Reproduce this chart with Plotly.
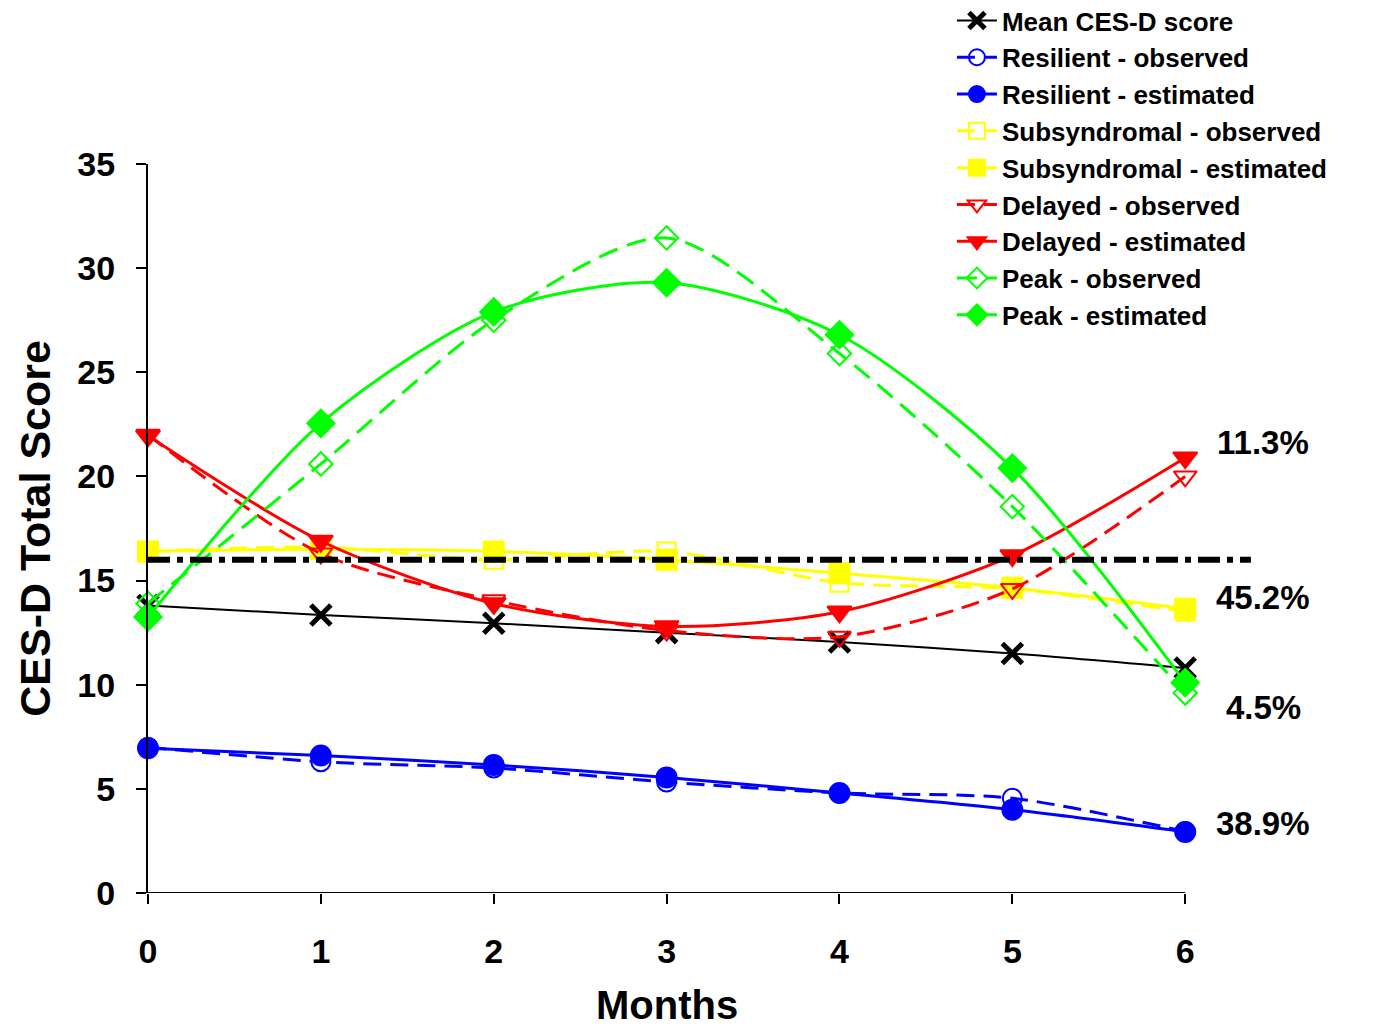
import plotly.graph_objects as go

months = [0, 1, 2, 3, 4, 5, 6]
y_ticks = [0, 5, 10, 15, 20, 25, 30, 35]

mean_score = [13.8, 13.35, 12.95, 12.5, 12.05, 11.5, 10.8]
resilient_obs = [7.0, 6.3, 6.0, 5.33, 4.8, 4.55, 2.95]
resilient_est = [6.95, 6.6, 6.15, 5.55, 4.8, 4.0, 2.93]
subsyn_obs = [16.4, 16.6, 16.0, 16.4, 14.9, 14.6, 13.5]
subsyn_est = [16.4, 16.5, 16.4, 16.0, 15.35, 14.65, 13.65]
delayed_obs = [22.0, 16.3, 14.05, 12.6, 12.3, 14.6, 20.0]
delayed_est = [21.95, 16.9, 13.9, 12.8, 13.5, 16.2, 20.9]
peak_obs = [13.9, 20.6, 27.5, 31.45, 25.9, 18.55, 9.6]
peak_est = [13.25, 22.55, 27.9, 29.3, 26.8, 20.4, 10.1]
threshold = 16
threshold_x = [0, 6.38]

pct_labels = ["11.3%", "45.2%", "4.5%", "38.9%"]

FONT = "Arial, Liberation Sans, sans-serif"

fig = go.Figure()

def add(name, y, color, symbol, size, dash, lw=3, mlw=2):
    fig.add_trace(go.Scatter(
        x=months, y=y, name=name, mode="lines+markers",
        line=dict(color=color, width=lw, dash=dash, shape="spline", smoothing=0.8),
        marker=dict(symbol=symbol, size=size, color=color,
                    line=dict(color=color, width=mlw)),
        cliponaxis=False,
    ))

add("Mean CES-D score", mean_score, "black", "x-thin", 20, "solid", lw=2, mlw=5)
add("Resilient - observed", resilient_obs, "#0000FF", "circle-open", 19, "18px,9px")
add("Resilient - estimated", resilient_est, "#0000FF", "circle", 20, "solid")
add("Subsyndromal - observed", subsyn_obs, "#FFFF00", "square-open", 18, "18px,9px")
add("Subsyndromal - estimated", subsyn_est, "#FFFF00", "square", 20, "solid")
add("Delayed - observed", delayed_obs, "#FF0000", "triangle-down-open", 20, "18px,9px")
add("Delayed - estimated", delayed_est, "#FF0000", "triangle-down", 21, "solid")
add("Peak - observed", peak_obs, "#00FF00", "diamond-open", 18, "20px,10px")
add("Peak - estimated", peak_est, "#00FF00", "diamond", 21, "solid")

fig.add_trace(go.Scatter(
    x=threshold_x, y=[threshold, threshold], mode="lines", showlegend=False,
    line=dict(color="black", width=6, dash="22px,7px,6px,7px"), hoverinfo="skip",
))

# x axis line from first to last month
fig.add_shape(type="line", xref="x", yref="y", x0=months[0], x1=months[-1],
              y0=0, y1=0, line=dict(color="black", width=2), layer="above")

pct_pos = [21.65, 14.2, 8.93, 3.36]
for t, yy in zip(pct_labels, pct_pos):
    fig.add_annotation(x=6.45, y=yy, xref="x", yref="y", text=t, showarrow=False,
                       font=dict(family=FONT, size=33, color="black", weight="bold"),
                       xanchor="center", yanchor="middle")

fig.add_annotation(x=3, y=-0.154, xref="x", yref="paper", text="Months", showarrow=False,
                   font=dict(family=FONT, size=40, color="black", weight="bold"),
                   xanchor="center", yanchor="middle")
fig.add_annotation(x=-0.102, y=0.5, xref="paper", yref="paper", text="CES-D Total Score",
                   showarrow=False, textangle=-90,
                   font=dict(family=FONT, size=43, color="black", weight="bold"),
                   xanchor="center", yanchor="middle")

fig.update_layout(
    width=1378, height=1027,
    margin=dict(l=140, r=123, t=156, b=142, autoexpand=False),
    paper_bgcolor="white", plot_bgcolor="white",
    font=dict(family=FONT, color="black"),
    showlegend=True,
    legend=dict(
        xref="container", yref="paper", x=0.685, y=1.229, xanchor="left", yanchor="top",
        font=dict(family=FONT, size=26, color="black", weight="bold"),
        bgcolor="rgba(0,0,0,0)", itemwidth=40,
    ),
    xaxis=dict(range=[0, 6.45], tickvals=months, ticktext=[str(m) for m in months],
               showline=False, showgrid=False, zeroline=False,
               ticks="outside", ticklen=10, tickwidth=2, tickcolor="black",
               ticklabelstandoff=18,
               tickfont=dict(family=FONT, size=34, color="black", weight="bold")),
    yaxis=dict(range=[0, 35], tickvals=y_ticks, showline=True, linecolor="black", linewidth=2,
               showgrid=False, zeroline=False,
               ticks="outside", ticklen=10, tickwidth=2, tickcolor="black",
               ticklabelstandoff=14,
               tickfont=dict(family=FONT, size=34, color="black", weight="bold")),
)

fig.write_html("out.html")
